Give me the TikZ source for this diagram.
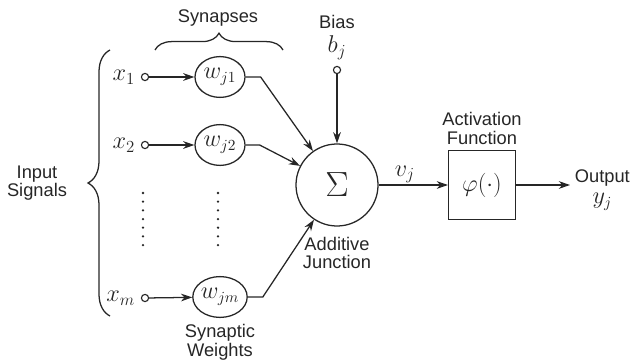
\documentclass[tikz,border=0pt]{standalone}
\usepackage{amsmath,amssymb}
\usepackage{fontspec}
\setsansfont{Liberation Sans}
\usepackage{tikz}
\usetikzlibrary{positioning, arrows.meta, shapes.geometric, decorations.pathreplacing}

\begin{document}
\begin{tikzpicture}[
        x=0.025cm, y=-0.025cm,
        color=black!85,
        % Style for the synaptic weight nodes
        weightnode/.style={
            draw,
            ellipse,
            minimum width=1.25cm,
            minimum height=1.02cm,
            inner sep=0pt,
            line width=0.9pt,
            font=\fontsize{16}{18}\selectfont
        },
        % Style for the small open terminals
        terminal/.style={
            draw,
            circle,
            minimum size=0.18cm,
            inner sep=0pt,
            line width=0.8pt,
            fill=white
        },
        % Style for the word labels
        labeltext/.style={
            font=\sffamily\fontsize{13}{13}\selectfont,
            align=center,
            inner sep=1pt
        },
        % Style for the math labels
        mathlabel/.style={
            font=\fontsize{17}{19}\selectfont,
            inner sep=1pt
        },
        % Style for the signal arrows
        signal_arrow/.style={
            -{Stealth[length=8pt, width=5.5pt]},
            line width=0.9pt
        },
        % Style for the curly braces
        curly/.style={
            decorate,
            decoration={brace, amplitude=#1},
            line width=0.9pt
        }
    ]
    \useasboundingbox (0,0) rectangle (635,360);

    % ==========================================
    % INPUTS AND SYNAPSES
    % ==========================================
    \node[terminal] (in1) at (145,77) {};
    \node[terminal] (in2) at (145,145) {};
    \node[terminal] (inm) at (145,298) {};

    \node[mathlabel, left=0.1cm of in1] (x1) {$x_1$};
    \node[mathlabel, left=0.1cm of in2] (x2) {$x_2$};
    \node[mathlabel, left=0.1cm of inm] (xm) {$x_m$};

    \node[weightnode] (w1) at (220,77) {$w_{j1}$};
    \node[weightnode] (w2) at (220,145) {$w_{j2}$};
    \node[weightnode] (wm) at (220,297) {$w_{jm}$};

    \draw[signal_arrow] (in1) -- (w1);
    \draw[signal_arrow] (in2) -- (w2);
    \draw[signal_arrow] (inm) -- (wm);

    % dotted rows
    \draw[line width=1.8pt, line cap=round, dash pattern=on 0pt off 0.217cm] (143,193) -- (143,246);
    \draw[line width=1.8pt, line cap=round, dash pattern=on 0pt off 0.217cm] (218,193) -- (218,246);

    % braces
    \draw[curly=0.55cm] (110,316) -- (110,50);
    \draw[curly=0.42cm] (155,50) -- (283,50);
    \node[labeltext] (insig) at (37,183) {Input\\Signals};
    \node[labeltext] (syn) at (218,18) {Synapses};
    \node[labeltext, below=0.12cm of wm] (synw) {Synaptic\\Weights};

    % ==========================================
    % SUMMING JUNCTION
    % ==========================================
    \node[draw, circle, minimum size=2.05cm, line width=0.9pt,
          font=\fontsize{26}{28}\selectfont] (sum) at (337,185) {$\Sigma$};
    \node[labeltext, below=0.22cm of sum] (addj) {Additive\\Junction};

    \draw[signal_arrow] (w1.east) -- ++(15,0) -- (sum);
    \draw[signal_arrow] (w2.east) -- ++(14,0) -- (sum);
    \draw[signal_arrow] (wm.east) -- ++(15,0) -- (sum);

    \node[terminal] (bias) at (337,70) {};
    \node[mathlabel, inner sep=0pt] (bj) at (337,48) {$b_j$};
    \node[labeltext, inner sep=0pt] (biastxt) at (337,22) {Bias};
    \draw[signal_arrow] (bias) -- (sum);

    % ==========================================
    % ACTIVATION AND OUTPUT
    % ==========================================
    \node[draw, minimum width=1.67cm, minimum height=1.72cm, line width=0.9pt,
          font=\fontsize{18}{20}\selectfont] (act) at (482,185) {$\varphi(\cdot)$};
    \node[labeltext, above=0.1cm of act] (acttxt) {Activation\\Function};
    \draw[signal_arrow] (sum) -- node[mathlabel, above, pos=0.38] {$v_j$} (act);

    \coordinate (outend) at (570,185);
    \draw[signal_arrow] (act) -- (outend);
    \node[labeltext, right=0.08cm of outend, yshift=-0.12cm] (output)
        {Output\\[2pt]{\fontsize{16}{16}\selectfont$y_j$}};
\end{tikzpicture}
\end{document}
